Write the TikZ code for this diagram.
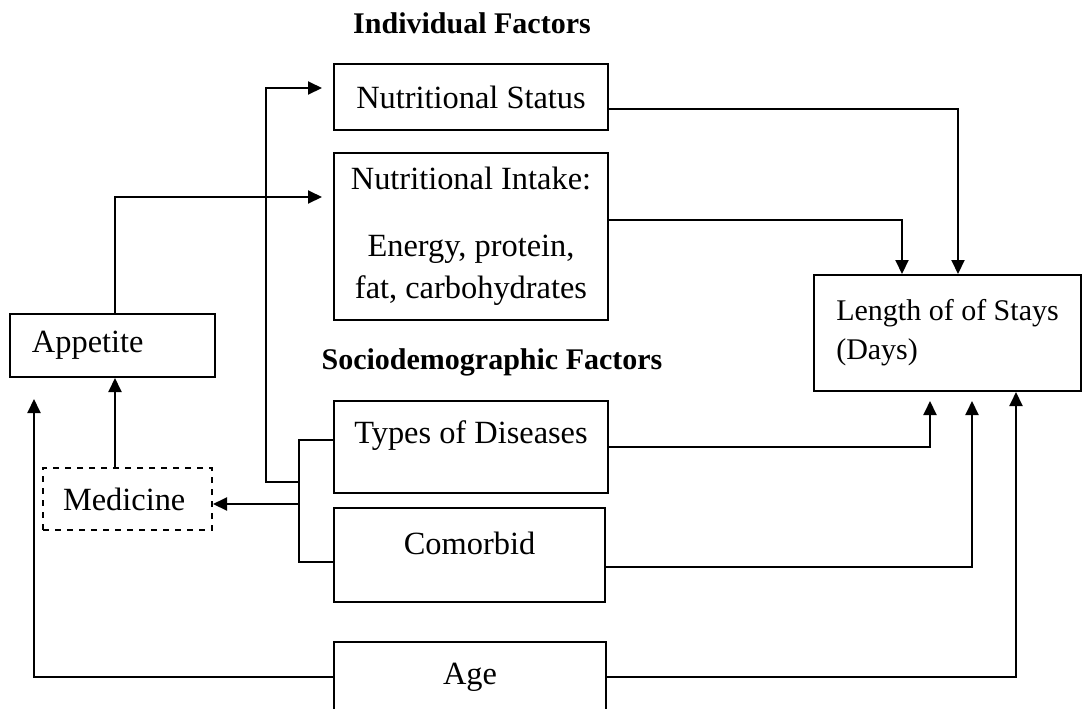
\documentclass[tikz,border=0pt]{standalone}
\usepackage{fontspec}
\setmainfont{Liberation Serif}
\usetikzlibrary{arrows.meta,calc}

\tikzset{
  box/.style={draw, line width=1pt, inner sep=0pt, font=\fontsize{16.2}{21}\selectfont},
  arr/.style={line width=1pt, -{Triangle[length=7pt,width=6.5pt]}},
  link/.style={line width=1pt},
  heading/.style={font=\fontsize{15}{18}\selectfont\bfseries},
}

\begin{document}
\begin{tikzpicture}[x=0.5pt,y=-0.5pt]
    \useasboundingbox (0,0) rectangle (1082,708);

    % headings
    \node[heading] (indiv) at (472,23) {Individual Factors};
    \node[heading] (socio) at (492,362) {Sociodemographic Factors};

    % boxes
    \node[box, minimum width=137pt, minimum height=33pt] (ns) at (471,97) {Nutritional Status};
    \node[box, minimum width=137pt, minimum height=83.5pt, align=center] (ni) at (471,236.5)
        {Nutritional Intake:\\[12.5pt]Energy, protein,\\fat, carbohydrates};
    \node[box, minimum height=31.5pt, inner xsep=11pt, text width=80.5pt, align=left] (app) at (112.5,345.5) {Appetite};
    \node[box, dashed, minimum height=31pt, inner xsep=10pt, text width=64.5pt, align=left] (med) at (127.5,499) {Medicine};
    \node[box, minimum width=133.5pt, minimum height=58pt, align=left,
        font=\fontsize{15}{19.5}\selectfont] (los) at (947.5,333) {Length of of Stays\\(Days)};
    \node[box, minimum width=137pt, minimum height=46pt, text depth=15pt] (td) at (471,447) {Types of Diseases};
    \node[box, minimum width=135.5pt, minimum height=47pt, text depth=12pt] (co) at (469.5,555) {Comorbid};
    \node[box, minimum width=136pt, minimum height=35pt] (age) at (470,677) {Age};

    % into length of stay
    \draw[arr] ($(ns.east)+(0,12)$) -| ($(los.north)+(10.5,0)$);
    \draw[arr] ($(ni.east)+(0,-16.5)$) -| ($(los.north)+(-45.5,0)$);
    \draw[arr] (td.east) -| ($(los.south)+(-17.5,9)$);
    \draw[arr] ($(co.east)+(0,12)$) -| ($(los.south)+(24.5,9)$);
    \draw[arr] (age.east) -| ($(los.south)+(68.5,0)$);

    % age -> appetite
    \draw[arr] (age.west) -| ($(app.south)+(-78.5,21)$);

    % medicine -> appetite -> intake
    \coordinate (medtop) at ($(med.north)+(-12.5,0)$);
    \draw[arr] (medtop) -- (medtop |- app.south);
    \coordinate (apptop) at ($(app.north)+(2.5,0)$);
    \draw[arr] (apptop) |- ($(ni.west)+(-11,-39.5)$);

    % diseases / comorbid bracket
    \draw[link] ($(td.west)+(0,-7)$) -- ++(-34,0) |- ($(co.west)+(0,7)$);
    \coordinate (split) at ($(td.west)+(-34,57)$);
    \draw[arr] (split) -- (split -| med.east);
    \coordinate (join) at ($(td.west)+(-34,35)$);
    \draw[arr] (join) -- ++(-33,0) |- ($(ns.west)+(-11,-9)$);
\end{tikzpicture}
\end{document}
